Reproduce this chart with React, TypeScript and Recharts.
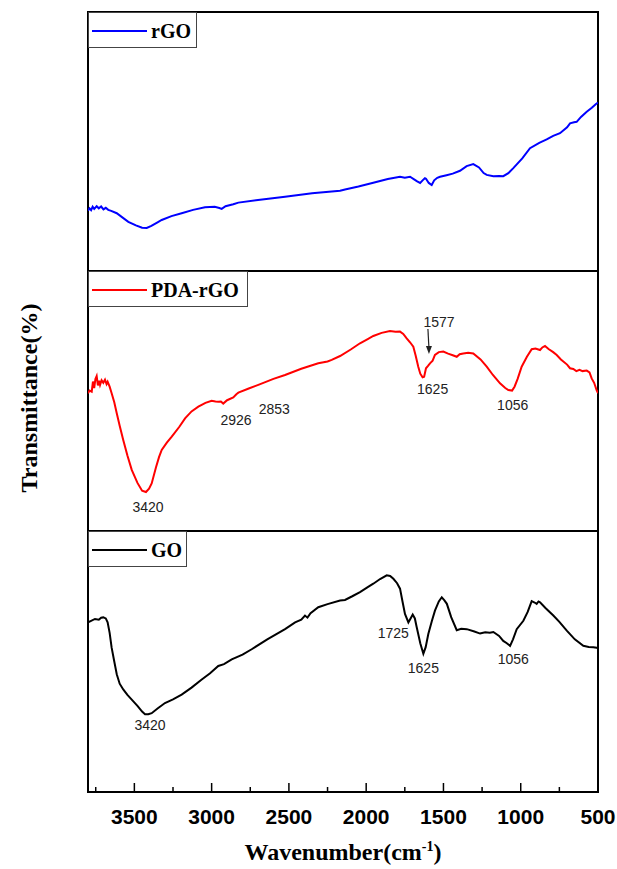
import React from 'react';
import { LineChart, Line, XAxis, YAxis, ReferenceArea, ReferenceDot, Legend } from 'recharts';

// FTIR spectra, wavenumber (cm-1) vs. transmittance (arbitrary units per panel, 0-100)
const rGO: [number, number][] = [
  [3800, 23.3], [3790, 24.2], [3780, 23.5], [3770, 24.8], [3760, 24.0], [3744, 25.0], [3730, 24.2],
  [3715, 24.9], [3700, 23.8], [3685, 24.4], [3669, 23.6], [3650, 23.2], [3614, 22.3], [3580, 20.8],
  [3539, 19.0], [3490, 17.6], [3450, 16.7], [3420, 16.6], [3390, 17.4], [3350, 18.8], [3323, 19.7],
  [3260, 21.2], [3194, 22.3], [3120, 23.6], [3043, 24.6], [2980, 24.8], [2950, 24.3], [2935, 24.0],
  [2910, 25.0], [2860, 25.8], [2827, 26.4], [2700, 27.4], [2525, 28.7], [2350, 30.0], [2169, 31.0],
  [2137, 31.5], [2050, 32.6], [1954, 34.1], [1860, 35.5], [1781, 36.4], [1750, 36.0], [1716, 36.4],
  [1690, 35.4], [1670, 34.6], [1651, 34.0], [1635, 35.0], [1620, 35.8], [1613, 35.6], [1595, 34.0],
  [1576, 33.2], [1560, 35.0], [1540, 36.0], [1522, 36.4], [1480, 37.0], [1440, 37.6], [1393, 38.7],
  [1350, 40.5], [1307, 41.3], [1270, 40.0], [1240, 37.8], [1220, 37.1], [1177, 36.6], [1140, 36.7],
  [1113, 36.6], [1080, 37.8], [1048, 39.7], [990, 43.5], [940, 47.4], [880, 49.5], [832, 50.8],
  [790, 52.2], [746, 53.2], [700, 55.5], [681, 57.0], [655, 57.4], [638, 57.6], [610, 59.5],
  [573, 61.5], [540, 63.0], [513, 64.5], [500, 65.0],
];

const pdaRGO: [number, number][] = [
  [3800, 53.0], [3790, 54.0], [3776, 53.6], [3768, 57.5], [3760, 55.0], [3752, 58.5], [3744, 59.6],
  [3736, 56.0], [3728, 57.8], [3722, 56.2], [3712, 58.0], [3701, 57.0], [3690, 58.2], [3680, 56.5],
  [3673, 57.4], [3660, 55.5], [3647, 53.0], [3630, 49.5], [3614, 45.3], [3595, 40.5], [3572, 35.0],
  [3545, 29.0], [3517, 23.5], [3480, 18.5], [3450, 15.5], [3425, 15.0], [3405, 16.3], [3388, 18.3],
  [3360, 24.5], [3340, 28.5], [3323, 31.2], [3290, 34.0], [3258, 36.3], [3210, 40.0], [3172, 43.3],
  [3130, 46.0], [3086, 47.8], [3040, 49.3], [3000, 50.1], [2975, 49.8], [2957, 49.7], [2940, 49.8],
  [2925, 49.0], [2900, 50.3], [2860, 51.4], [2840, 52.6], [2827, 53.2], [2760, 54.8], [2698, 56.2],
  [2600, 58.5], [2525, 60.0], [2420, 62.4], [2310, 64.5], [2250, 65.2], [2223, 65.8], [2169, 67.3],
  [2100, 69.8], [2040, 72.2], [1990, 73.8], [1954, 75.0], [1900, 76.2], [1846, 76.9], [1810, 76.6],
  [1781, 76.7], [1760, 75.8], [1738, 74.1], [1715, 72.5], [1695, 70.9], [1680, 67.5], [1663, 63.2],
  [1650, 60.5], [1635, 59.1], [1625, 59.3], [1613, 62.6], [1600, 63.5], [1587, 64.5], [1570, 65.5],
  [1555, 67.7], [1530, 68.8], [1501, 69.0], [1470, 68.2], [1440, 67.6], [1414, 67.0], [1395, 68.0],
  [1372, 68.3], [1340, 68.6], [1307, 68.3], [1260, 66.0], [1220, 63.2], [1180, 60.0], [1134, 56.8],
  [1100, 55.0], [1080, 54.2], [1056, 54.0], [1040, 55.5], [1020, 58.5], [994, 63.2], [960, 67.0],
  [929, 69.9], [905, 70.2], [875, 69.6], [860, 70.6], [843, 71.2], [820, 70.0], [790, 68.8],
  [767, 67.7], [740, 66.0], [700, 64.0], [681, 62.6], [660, 62.3], [640, 61.5], [620, 62.0],
  [600, 61.5], [573, 61.7], [555, 61.0], [541, 58.7], [525, 57.0], [509, 54.2], [500, 53.0],
];

const GO: [number, number][] = [
  [3800, 65.0], [3780, 65.6], [3755, 66.3], [3730, 66.0], [3715, 66.8], [3701, 66.9], [3685, 66.5],
  [3673, 65.0], [3660, 61.0], [3647, 55.3], [3630, 50.0], [3614, 45.1], [3595, 41.5], [3572, 39.3],
  [3545, 37.2], [3517, 35.4], [3480, 33.0], [3450, 30.8], [3431, 29.8], [3410, 29.8], [3388, 30.2],
  [3350, 32.0], [3302, 34.1], [3250, 35.5], [3194, 37.3], [3130, 40.0], [3064, 43.1], [3010, 45.5],
  [2957, 48.3], [2920, 49.0], [2870, 50.8], [2800, 52.6], [2741, 54.7], [2640, 58.5], [2525, 62.4],
  [2460, 65.0], [2420, 66.0], [2396, 67.6], [2380, 66.8], [2360, 68.5], [2310, 70.8], [2250, 72.0],
  [2169, 73.4], [2137, 73.6], [2090, 75.0], [2040, 76.6], [1990, 78.5], [1954, 79.8], [1910, 81.6],
  [1867, 83.0], [1845, 82.8], [1824, 81.7], [1800, 80.0], [1781, 77.9], [1765, 73.0], [1749, 68.2],
  [1727, 65.0], [1710, 66.8], [1699, 68.0], [1685, 66.5], [1673, 63.1], [1650, 57.0], [1630, 53.0],
  [1615, 55.5], [1598, 60.5], [1575, 65.5], [1555, 69.5], [1530, 73.0], [1511, 74.6], [1495, 73.5],
  [1478, 72.1], [1450, 67.0], [1414, 62.0], [1385, 62.5], [1349, 62.4], [1300, 61.5], [1263, 60.7],
  [1230, 61.2], [1200, 61.0], [1177, 61.3], [1140, 59.8], [1113, 57.9], [1090, 57.0], [1069, 56.0],
  [1050, 58.5], [1026, 62.4], [983, 65.6], [955, 69.0], [929, 73.1], [910, 72.6], [897, 72.1],
  [885, 73.0], [875, 72.7], [840, 70.5], [789, 67.6], [750, 65.2], [702, 61.8], [650, 58.5],
  [595, 56.0], [560, 55.6], [530, 55.5], [509, 55.3], [500, 55.0],
];

// peak labels: text, and where the text sits (wavenumber, transmittance)
const pdaPeaks: [string, number, number][] = [
  ['3420', 3412, 9.2], ['2926', 2842, 42.7], ['2853', 2595, 46.9],
  ['1625', 1570, 54.5], ['1056', 1052, 48.5], ['1577', 1529, 80.4],
];
const goPeaks: [string, number, number][] = [
  ['3420', 3399, 25.5], ['1725', 1825, 61.1], ['1625', 1630, 47.4], ['1056', 1048, 51.1],
];
// arrow tip pointing at the 1577 shoulder
const pdaArrow = { w: 1594, t: 68.1 };

const xTicks = [3750, 3500, 3250, 3000, 2750, 2500, 2250, 2000, 1750, 1500, 1250, 1000, 750, 500];

const toRows = (pts: [number, number][]) => pts.map(([w, t]) => ({ w, t }));

const SERIF = '"Liberation Serif", "Times New Roman", serif';
const SANS = '"Liberation Sans", Arial, sans-serif';

const WaveTick = (props: any) => {
  const { x, y, payload } = props;
  const major = payload.value % 500 === 0;
  return (
    <g>
      <line x1={x} x2={x} y1={y} y2={y - (major ? 9 : 5)} stroke="#000" strokeWidth={1.5} />
      {major && (
        <text x={x} y={y + 32} textAnchor="middle" fontFamily={SANS} fontWeight="bold" fontSize={21} fill="#000">
          {payload.value}
        </text>
      )}
    </g>
  );
};

const PeakText = (text: string) => (p: any) => (
  <text x={p.cx} y={p.cy} textAnchor="middle" dominantBaseline="central" fontFamily={SANS} fontSize={14} fill="#222">
    {text}
  </text>
);

const Arrow = (p: any) => (
  <g>
    <line x1={p.cx - 1} y1={p.cy - 25} x2={p.cx} y2={p.cy - 6} stroke="#222" strokeWidth={1.2} />
    <polygon points={`${p.cx - 3},${p.cy - 8} ${p.cx + 3},${p.cy - 8} ${p.cx},${p.cy}`} fill="#222" />
  </g>
);

const makeLegend = (boxWidth: number) => (props: any) => {
  const item = props.payload && props.payload[0];
  if (!item) return null;
  return (
    <div
      style={{
        width: boxWidth,
        height: 36,
        border: '1px solid #444',
        background: '#fff',
        boxSizing: 'border-box',
        position: 'relative',
      }}
    >
      <span style={{ position: 'absolute', left: 3, top: 17, width: 55, height: 2, background: item.color }} />
      <span
        style={{
          position: 'absolute',
          left: 62,
          top: 4,
          fontFamily: SERIF,
          fontWeight: 'bold',
          fontSize: 20,
          lineHeight: '28px',
          color: '#000',
        }}
      >
        {item.value}
      </span>
    </div>
  );
};

type PanelProps = {
  rows: { w: number; t: number }[];
  name: string;
  color: string;
  legendWidth: number;
  top: number;
  plotHeight: number;
  withAxis?: boolean;
  peaks?: [string, number, number][];
  arrow?: { w: number; t: number };
};

function Panel({ rows, name, color, legendWidth, top, plotHeight, withAxis, peaks, arrow }: PanelProps) {
  const axisHeight = withAxis ? 76 : 0;
  return (
    <div style={{ position: 'absolute', left: 0, top: top - 2 }}>
      <LineChart
        width={617}
        height={plotHeight + 4 + axisHeight}
        data={rows}
        margin={{ top: 2, right: 19, bottom: withAxis ? 0 : 2, left: 88 }}
      >
        <XAxis
          dataKey="w"
          type="number"
          domain={[500, 3800]}
          reversed
          allowDataOverflow
          hide={!withAxis}
          ticks={xTicks}
          interval={0}
          tickSize={0}
          tickMargin={0}
          tick={<WaveTick />}
          axisLine={{ stroke: '#000', strokeWidth: 2 }}
          tickLine={false}
          height={axisHeight || 30}
        />
        <YAxis type="number" domain={[0, 100]} hide />
        <ReferenceArea x1={3800} x2={500} y1={0} y2={100} fill="none" stroke="#000" strokeWidth={2} />
        <Line
          dataKey="t"
          name={name}
          type="linear"
          stroke={color}
          strokeWidth={2}
          dot={false}
          isAnimationActive={false}
        />
        {(peaks || []).map(([text, w, t]) => (
          <ReferenceDot key={text + w} x={w} y={t} r={0} shape={PeakText(text)} />
        ))}
        {arrow && <ReferenceDot x={arrow.w} y={arrow.t} r={0} shape={Arrow} />}
        <Legend
          layout="vertical"
          align="center"
          verticalAlign="middle"
          wrapperStyle={{ top: 2, left: 88, width: legendWidth, height: 36 }}
          content={makeLegend(legendWidth)}
        />
      </LineChart>
    </div>
  );
}

export default function App() {
  return (
    <div style={{ position: 'absolute', left: 0, top: 0, width: 617, height: 869, background: '#fff' }}>
      <Panel rows={toRows(rGO)} name="rGO" color="#0000ff" legendWidth={109} top={12} plotHeight={259} />
      <Panel
        rows={toRows(pdaRGO)}
        name="PDA-rGO"
        color="#ff0000"
        legendWidth={160}
        top={271}
        plotHeight={260}
        peaks={pdaPeaks}
        arrow={pdaArrow}
      />
      <Panel
        rows={toRows(GO)}
        name="GO"
        color="#000000"
        legendWidth={99}
        top={531}
        plotHeight={259}
        withAxis
        peaks={goPeaks}
      />
      <div
        style={{
          position: 'absolute',
          left: -121,
          top: 383,
          width: 300,
          height: 30,
          lineHeight: '30px',
          textAlign: 'center',
          transform: 'rotate(-90deg)',
          fontFamily: SERIF,
          fontWeight: 'bold',
          fontSize: 24,
          color: '#000',
        }}
      >
        Transmittance(%)
      </div>
      <div
        style={{
          position: 'absolute',
          left: 88,
          top: 840,
          width: 510,
          lineHeight: '24px',
          textAlign: 'center',
          fontFamily: SERIF,
          fontWeight: 'bold',
          fontSize: 24,
          color: '#000',
        }}
      >
        Wavenumber(cm<sup style={{ fontSize: 14, verticalAlign: 'super', lineHeight: 0 }}>-1</sup>)
      </div>
    </div>
  );
}
